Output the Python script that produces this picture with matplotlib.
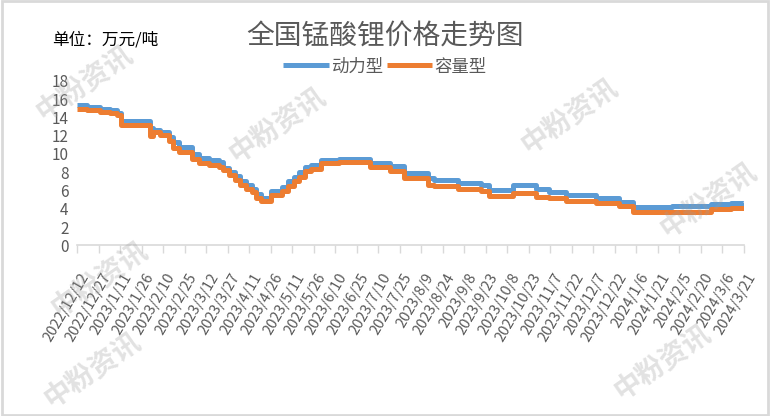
import pandas as pd
import matplotlib
matplotlib.use("Agg")
import matplotlib.pyplot as plt
import matplotlib.transforms as mtrans

plt.rcParams['font.family'] = ['Noto Sans CJK SC', 'DejaVu Sans']

# 价格变动日期（阶梯数据，每个值保持到下一个日期）
dates = [
    "2022-12-12", "2022-12-19", "2022-12-28", "2023-01-04", "2023-01-09", "2023-01-12",
    "2023-02-01", "2023-02-03", "2023-02-08", "2023-02-14", "2023-02-17", "2023-02-21",
    "2023-03-02", "2023-03-07", "2023-03-14", "2023-03-21", "2023-03-24", "2023-03-28",
    "2023-04-01", "2023-04-05", "2023-04-09", "2023-04-13", "2023-04-16", "2023-04-19",
    "2023-04-26", "2023-05-04", "2023-05-08", "2023-05-12", "2023-05-16", "2023-05-20",
    "2023-05-24", "2023-05-31", "2023-06-13", "2023-07-04", "2023-07-18", "2023-07-28",
    "2023-08-14", "2023-08-18", "2023-09-04", "2023-09-20", "2023-09-25", "2023-10-12",
    "2023-10-28", "2023-11-06", "2023-11-18", "2023-12-09", "2023-12-25", "2024-01-04",
    "2024-01-31", "2024-02-27", "2024-03-12", "2024-03-21",
]
power = [
    15.3, 15.15, 14.9, 14.75, 14.5, 13.6,
    12.8, 12.6, 12.4, 11.9, 11.3, 10.8,
    10.0, 9.5, 9.3, 9.1, 8.5, 8.0,
    7.6, 7.0, 6.6, 6.2, 5.6, 5.2,
    5.9, 6.4, 7.0, 7.5, 8.0, 8.6,
    8.8, 9.3, 9.4, 9.0, 8.65, 7.95,
    7.35, 7.2, 6.85, 6.6, 6.05, 6.6,
    6.2, 5.85, 5.5, 5.15, 4.7, 4.25,
    4.3, 4.55, 4.6, 4.7,
]
capacity = [
    14.95, 14.85, 14.6, 14.45, 14.3, 13.2,
    12.0, 12.4, 12.1, 11.4, 10.7, 10.2,
    9.4, 9.0, 8.8, 8.6, 8.2, 7.7,
    7.2, 6.6, 6.2, 5.8, 5.2, 4.85,
    5.5, 5.9, 6.5, 7.0, 7.5, 8.1,
    8.3, 9.0, 9.1, 8.6, 8.15, 7.4,
    6.6, 6.5, 6.15, 5.9, 5.45, 5.7,
    5.25, 5.15, 4.9, 4.65, 4.3, 3.6,
    3.7, 3.95, 4.1, 4.3,
]
series_names = ["动力型", "容量型"]
colors = ["#5B9BD5", "#ED7D31"]

dates = pd.to_datetime(dates)
ticks = pd.date_range("2022-12-12", "2024-03-21", freq="15D")
tick_labels = [f"{d.year}/{d.month}/{d.day}" for d in ticks]

fig = plt.figure(figsize=(7.7, 4.16), dpi=100)
ax = fig.add_axes([0.1, 0.41, 0.866, 0.396])

for vals, name, c in zip([power, capacity], series_names, colors):
    ax.plot(dates, vals, drawstyle="steps-post", color=c, lw=3.6, label=name,
            solid_capstyle="butt")

ax.set_xlim(ticks[0], ticks[-1])
ax.set_ylim(0, 18)
ax.set_yticks(range(0, 19, 2))
ax.set_xticks(ticks)
ax.set_xticklabels(tick_labels, rotation=60, ha="right", va="center",
                   rotation_mode="anchor")
ax.tick_params(axis="x", colors="#D9D9D9", length=5.8, width=1, labelcolor="#595959",
               labelsize=10.5, pad=0)
ax.tick_params(axis="y", length=0, labelcolor="#595959", labelsize=11, pad=6)
shift = mtrans.ScaledTranslation(9 / 100, -21 / 100, fig.dpi_scale_trans)
for lab in ax.get_xticklabels():
    lab.set_transform(lab.get_transform() + shift)
for s in ["top", "right", "left"]:
    ax.spines[s].set_visible(False)
ax.spines["bottom"].set_color("#D9D9D9")
ax.spines["bottom"].set_linewidth(1.2)

fig.text(0.5, 0.915, "全国锰酸锂价格走势图", ha="center", va="center",
         fontsize=20, fontweight="light", color="#595959")
fig.text(0.068, 0.905, "单位：万元/吨", ha="left", va="center", fontsize=12,
         color="black")
ax.legend(loc="center", bbox_to_anchor=(0.5, 0.84), bbox_transform=fig.transFigure,
          ncol=2, frameon=False, fontsize=12.5, labelcolor="#595959",
          handlelength=2.6, handletextpad=0.15, columnspacing=0.2,
          borderpad=0.1)

# 水印
marks = [(0.11, 0.80), (0.13, 0.33), (0.36, 0.7), (0.74, 0.72), (0.86, 0.13),
         (0.92, 0.52), (0.12, 0.11)]
for x, y in marks:
    fig.text(x, y, "中粉资讯", rotation=35, ha="center", va="center",
             fontsize=20, fontweight="bold", color="#9E9E9E", alpha=0.3)

fig.patches.append(plt.Rectangle((0.002, 0.003), 0.996, 0.994, transform=fig.transFigure,
                                 fill=False, edgecolor="#D9D9D9", lw=2))

fig.savefig("out.png", dpi=100)
